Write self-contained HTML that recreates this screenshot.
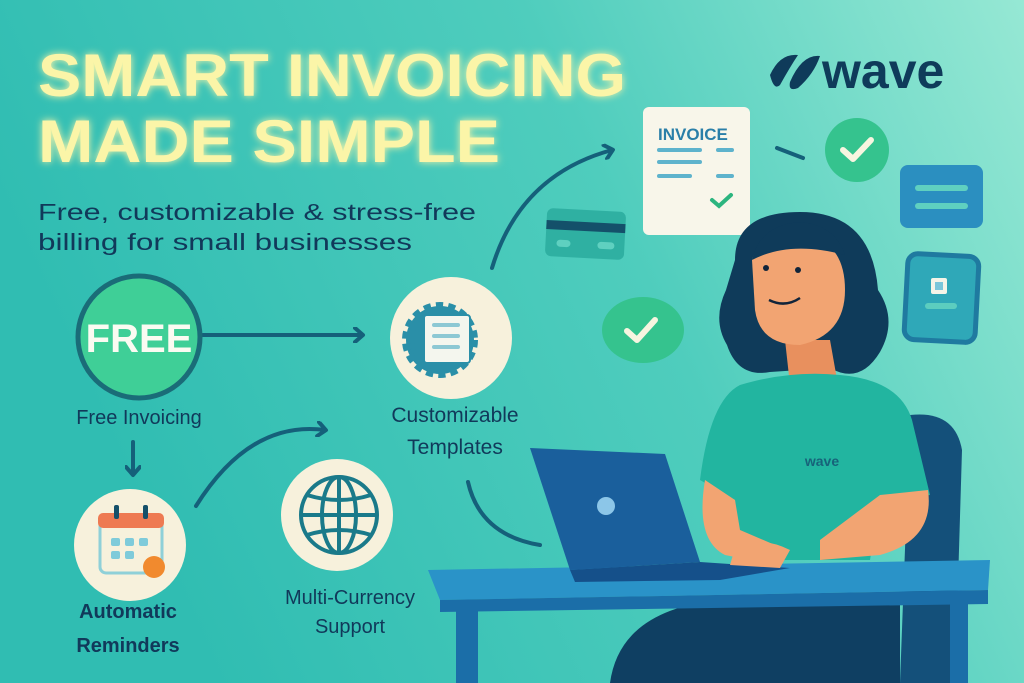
<!DOCTYPE html>
<html><head><meta charset="utf-8"><style>
html,body{margin:0;padding:0;width:1024px;height:683px;overflow:hidden}
text{font-family:"Liberation Sans","DejaVu Sans",sans-serif}
</style></head><body>
<svg width="1024" height="683" viewBox="0 0 1024 683" xmlns="http://www.w3.org/2000/svg">
<defs>
<linearGradient id="bg" x1="0" y1="0.3" x2="1" y2="0">
<stop offset="0" stop-color="#30bdb2"/><stop offset="0.55" stop-color="#4fcdbd"/><stop offset="1" stop-color="#96e8d4"/>
</linearGradient>
<filter id="glow" x="-10%" y="-30%" width="120%" height="160%"><feGaussianBlur stdDeviation="4" result="b"/><feMerge><feMergeNode in="b"/><feMergeNode in="SourceGraphic"/></feMerge></filter>
<marker id="ah" markerWidth="14" markerHeight="16" refX="9" refY="8" orient="auto" markerUnits="userSpaceOnUse"><path d="M2,1 L10,8 L2,15" fill="none" stroke="#15607a" stroke-width="4" stroke-linecap="round" stroke-linejoin="round"/></marker>
</defs>
<rect width="1024" height="683" fill="url(#bg)"/>

<!-- title -->
<g filter="url(#glow)" fill="#fbf5a8" font-weight="bold" font-size="60">
<text x="38" y="96" textLength="588" lengthAdjust="spacingAndGlyphs">SMART INVOICING</text>
<text x="38" y="162" textLength="462" lengthAdjust="spacingAndGlyphs">MADE SIMPLE</text>
</g>
<g fill="#11395a" font-size="23">
<text x="38" y="220" textLength="438" lengthAdjust="spacingAndGlyphs">Free, customizable &amp; stress-free</text>
<text x="38" y="250" textLength="374" lengthAdjust="spacingAndGlyphs">billing for small businesses</text>
</g>

<!-- wave logo -->
<path d="M770 75 q10-22 28-20 q-8 12-18 30 q-6 6-10-10z M790 82 q12-28 30-26 q-6 18-22 32 q-10 4-8-6z" fill="#0f3b5a"/>
<text x="822" y="88" font-size="50" font-weight="bold" fill="#0f3b5a">wave</text>

<!-- connectors -->
<g fill="none" stroke="#15607a" stroke-width="4" stroke-linecap="round">
<line x1="203" y1="335" x2="362" y2="335" marker-end="url(#ah)"/>
<line x1="133" y1="442" x2="133" y2="474" marker-end="url(#ah)"/>
<path d="M196 506 Q250 420 325 430" marker-end="url(#ah)"/>
<path d="M492 268 Q520 175 612 150" marker-end="url(#ah)"/>
<path d="M468 482 Q480 535 540 545"/>
<path d="M777 148 L803 158"/>
</g>

<!-- FREE -->
<circle cx="139" cy="337" r="61" fill="#3fcf97" stroke="#1a6c78" stroke-width="5"/>
<text x="139" y="352" text-anchor="middle" font-size="40" font-weight="bold" fill="#fbfbf2">FREE</text>
<text x="139" y="424" text-anchor="middle" font-size="20" fill="#11395a">Free Invoicing</text>

<!-- calendar -->
<circle cx="130" cy="545" r="56" fill="#f7f1dc"/>
<rect x="100" y="515" width="62" height="58" rx="6" fill="#f7f1dc" stroke="#8fd0d8" stroke-width="3"/>
<rect x="98" y="513" width="66" height="15" rx="5" fill="#ee7a52"/>
<rect x="114" y="505" width="5" height="14" rx="2" fill="#15506a"/><rect x="143" y="505" width="5" height="14" rx="2" fill="#15506a"/>
<g fill="#7fcbda"><rect x="111" y="538" width="9" height="8" rx="2"/><rect x="125" y="538" width="9" height="8" rx="2"/><rect x="139" y="538" width="9" height="8" rx="2"/><rect x="111" y="551" width="9" height="8" rx="2"/><rect x="125" y="551" width="9" height="8" rx="2"/></g>
<circle cx="154" cy="567" r="11" fill="#f18a2e"/>
<text x="128" y="618" text-anchor="middle" font-size="20" font-weight="bold" fill="#11395a">Automatic</text>
<text x="128" y="652" text-anchor="middle" font-size="20" font-weight="bold" fill="#11395a">Reminders</text>

<!-- templates -->
<circle cx="451" cy="338" r="61" fill="#f7f1dc"/>
<circle cx="440" cy="340" r="34" fill="#2a8fa8" stroke="#2a8fa8" stroke-width="8" stroke-dasharray="7 5"/>
<circle cx="440" cy="340" r="26" fill="#2a8fa8"/>
<rect x="424" y="315" width="46" height="48" rx="3" fill="#f4f6ee" stroke="#2a8fa8" stroke-width="2"/>
<g stroke="#8cc8d4" stroke-width="4" stroke-linecap="round"><line x1="434" y1="325" x2="458" y2="325"/><line x1="434" y1="336" x2="458" y2="336"/><line x1="434" y1="347" x2="458" y2="347"/></g>
<text x="455" y="422" text-anchor="middle" font-size="21" fill="#11395a">Customizable</text>
<text x="455" y="454" text-anchor="middle" font-size="21" fill="#11395a">Templates</text>

<!-- globe -->
<circle cx="337" cy="515" r="56" fill="#f7f1dc"/>
<g fill="none" stroke="#1a7a8a" stroke-width="4"><circle cx="339" cy="515" r="38"/><ellipse cx="339" cy="515" rx="17" ry="38"/><line x1="339" y1="477" x2="339" y2="553"/><line x1="301" y1="515" x2="377" y2="515"/><path d="M307 495 Q339 505 371 495 M307 535 Q339 525 371 535"/></g>
<text x="350" y="604" text-anchor="middle" font-size="20" fill="#11395a">Multi-Currency</text>
<text x="350" y="633" text-anchor="middle" font-size="20" fill="#11395a">Support</text>

<!-- floating items -->
<rect x="643" y="107" width="107" height="128" rx="6" fill="#f8f6ea"/>
<text x="658" y="140" font-size="17" font-weight="bold" fill="#2a7fa8">INVOICE</text>
<g stroke="#5eb3cc" stroke-width="4" stroke-linecap="round"><line x1="659" y1="150" x2="700" y2="150"/><line x1="718" y1="150" x2="732" y2="150"/><line x1="659" y1="162" x2="700" y2="162"/><line x1="659" y1="176" x2="690" y2="176"/><line x1="718" y1="176" x2="732" y2="176"/></g>
<path d="M712 200 l7 6 l12-11" fill="none" stroke="#2cb57f" stroke-width="4" stroke-linecap="round"/>
<circle cx="857" cy="150" r="32" fill="#35c38e"/>
<path d="M843 150 l10 9 l18-19" fill="none" stroke="#f7f5e0" stroke-width="6" stroke-linecap="round" stroke-linejoin="round"/>
<ellipse cx="643" cy="330" rx="41" ry="33" fill="#35c38e"/>
<path d="M627 331 l10 9 l18-20" fill="none" stroke="#f7f5e0" stroke-width="6" stroke-linecap="round" stroke-linejoin="round"/>
<g transform="rotate(3 585 234)">
<rect x="546" y="210" width="79" height="48" rx="6" fill="#2fb0a2"/>
<rect x="546" y="222" width="79" height="9" fill="#14506a"/>
<rect x="557" y="241" width="14" height="7" rx="3.5" fill="#5fd0c0"/><rect x="598" y="241" width="17" height="7" rx="3.5" fill="#5fd0c0"/>
</g>
<rect x="900" y="165" width="83" height="63" rx="8" fill="#2b8fc0"/>
<g stroke="#5fd0c0" stroke-width="6" stroke-linecap="round"><line x1="918" y1="188" x2="965" y2="188"/><line x1="918" y1="206" x2="965" y2="206"/></g>
<rect x="906" y="255" width="71" height="86" rx="10" fill="#2fa8b8" stroke="#1f7aa0" stroke-width="5" transform="rotate(3 941 298)"/>
<rect x="931" y="278" width="16" height="16" rx="2" fill="#f4f4e8"/><rect x="935" y="282" width="8" height="8" fill="#7bc6da"/>
<rect x="925" y="303" width="32" height="6" rx="3" fill="#5ccdbf"/>

<!-- chair -->
<path d="M910 415 Q955 410 962 450 L955 683 L900 683 Z" fill="#14507a"/>
<!-- legs/pants -->
<path d="M610 683 Q620 610 720 600 L900 600 L900 683 Z" fill="#0f3f62"/>
<!-- hair -->
<path d="M735 260 Q735 212 800 212 Q872 212 878 290 Q898 320 880 352 Q860 385 830 368 L770 372 Q738 378 727 345 Q712 320 726 290 Z" fill="#0f3b5a"/>
<!-- neck & face -->
<path d="M785 340 L830 340 L838 385 L790 385 Z" fill="#e8905e"/>
<path d="M752 260 Q760 230 800 233 Q845 240 845 290 Q845 335 800 345 Q760 345 755 310 Z" fill="#f2a472"/>
<path d="M752 260 Q790 240 845 255 Q835 225 800 222 Q760 225 752 260Z" fill="#0f3b5a"/>
<circle cx="766" cy="268" r="3" fill="#11243a"/><circle cx="798" cy="270" r="3" fill="#11243a"/>
<path d="M769 300 Q785 308 800 298" fill="none" stroke="#11243a" stroke-width="2.5"/>
<!-- shirt -->
<path d="M740 385 Q790 370 840 375 Q900 380 912 420 L930 495 L880 500 L870 560 L740 560 L735 500 L700 480 Q710 400 740 385Z" fill="#22b5a0"/>
<text x="822" y="466" text-anchor="middle" font-size="14" font-weight="bold" fill="#17637a">wave</text>
<!-- arms -->
<path d="M880 495 L928 490 Q935 540 880 555 L820 560 L820 540 Z" fill="#f2a472"/>
<path d="M705 480 L735 500 L740 530 L775 545 L775 565 L725 555 Q695 540 705 480Z" fill="#f2a472"/>
<!-- desk -->
<path d="M428 570 L990 560 L988 590 L440 600 Z" fill="#2a93c8"/>
<path d="M440 600 L988 590 L988 604 L440 612 Z" fill="#1b6ea8"/>
<rect x="456" y="605" width="22" height="78" fill="#1b6ea8"/>
<rect x="950" y="598" width="18" height="85" fill="#1b6ea8"/>
<!-- laptop -->
<path d="M530 448 L665 454 L700 562 L570 570 Z" fill="#1a5f9c"/>
<circle cx="606" cy="506" r="9" fill="#8cc6e8"/>
<path d="M570 570 L700 562 L790 568 L720 580 L575 582 Z" fill="#15508a"/>
<path d="M735 548 Q760 535 790 550 L780 568 L730 565 Z" fill="#f2a472"/>
</svg>
</body></html>
